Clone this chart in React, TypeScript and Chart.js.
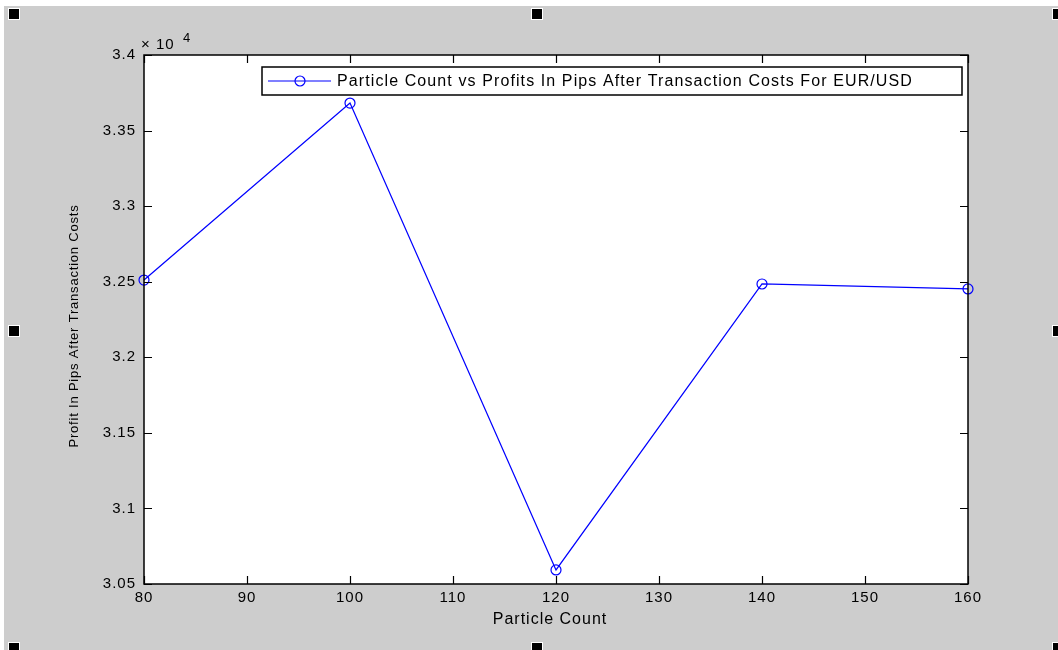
import React, { useEffect, useRef } from "react";
import { Chart, registerables } from "chart.js";

Chart.register(...registerables);

const particleCounts = [80, 100, 120, 140, 160];
const profits = [32511, 33682, 30593, 32485, 32452];
const seriesLabel = "Particle Count vs Profits In Pips After Transaction Costs For EUR/USD";
const xTitle = "Particle Count";
const yTitle = "Profit In Pips After Transaction Costs";
const yMin = 30500;
const yMax = 34000;
const yStep = 500;
const xMin = 80;
const xMax = 160;
const xStep = 10;

const W = 1058;
const H = 650;
const FONT = "'Liberation Sans', Arial, Helvetica, sans-serif";
const BG = "#cdcdcd";
const BLUE = "#0000ff";

const decorPlugin = {
  id: "decor",
  beforeDraw(chart: any) {
    const ctx = chart.ctx;
    const a = chart.chartArea;
    ctx.save();
    ctx.fillStyle = BG;
    ctx.fillRect(0, 0, W, H);
    ctx.fillStyle = "#ffffff";
    ctx.fillRect(0, 0, W, 6);
    ctx.fillRect(0, 0, 4, H);
    ctx.fillRect(a.left, a.top, a.right - a.left, a.bottom - a.top);
    ctx.restore();
    (ctx as any).letterSpacing = "1px";
  },
  afterDraw(chart: any) {
    const ctx = chart.ctx;
    const a = chart.chartArea;
    const xs = chart.scales.x;
    const ys = chart.scales.y;
    ctx.save();
    (ctx as any).letterSpacing = "0px";
    // frame
    ctx.strokeStyle = "#000";
    ctx.lineWidth = 1.5;
    ctx.strokeRect(a.left, a.top, a.right - a.left, a.bottom - a.top);
    // inward ticks
    const TL = 8;
    ctx.lineWidth = 1.2;
    ctx.beginPath();
    xs.ticks.forEach((t: any) => {
      const px = Math.round(xs.getPixelForValue(t.value)) + 0.5;
      ctx.moveTo(px, a.bottom);
      ctx.lineTo(px, a.bottom - TL);
      ctx.moveTo(px, a.top);
      ctx.lineTo(px, a.top + TL);
    });
    ys.ticks.forEach((t: any) => {
      const py = Math.round(ys.getPixelForValue(t.value)) + 0.5;
      ctx.moveTo(a.left, py);
      ctx.lineTo(a.left + TL, py);
      ctx.moveTo(a.right, py);
      ctx.lineTo(a.right - TL, py);
    });
    ctx.stroke();

    // exponent label
    ctx.fillStyle = "#000";
    (ctx as any).letterSpacing = "1px";
    ctx.font = `15px ${FONT}`;
    ctx.textAlign = "left";
    ctx.textBaseline = "alphabetic";
    ctx.fillText("\u00d7 10", a.left - 3, a.top - 6);
    ctx.font = `13px ${FONT}`;
    ctx.fillText("4", a.left + 39, a.top - 13);

    // axis titles
    ctx.font = `16px ${FONT}`;
    ctx.textAlign = "center";
    ctx.textBaseline = "middle";
    ctx.fillText(xTitle, 550, 620);
    ctx.save();
    ctx.translate(74, 326);
    ctx.rotate(-Math.PI / 2);
    (ctx as any).letterSpacing = "0.8px";
    ctx.font = `13px ${FONT}`;
    ctx.fillText(yTitle, 0, 0);
    ctx.restore();

    // legend
    const ds = chart.data.datasets[0];
    const bx = 262, by = 67, bw = 700, bh = 28;
    ctx.fillStyle = "#fff";
    ctx.fillRect(bx, by, bw, bh);
    ctx.strokeStyle = "#000";
    ctx.lineWidth = 1.5;
    ctx.strokeRect(bx, by, bw, bh);
    const ly = by + bh / 2;
    ctx.strokeStyle = ds.borderColor;
    ctx.lineWidth = 1.2;
    ctx.beginPath();
    ctx.moveTo(268, ly);
    ctx.lineTo(331, ly);
    ctx.stroke();
    ctx.beginPath();
    ctx.arc(300, ly, 5, 0, Math.PI * 2);
    ctx.stroke();
    ctx.fillStyle = "#000";
    ctx.font = `16px ${FONT}`;
    ctx.textAlign = "left";
    (ctx as any).letterSpacing = "1.1px";
    ctx.fillText(ds.label, 337, ly + 1);

    // selection handles
    const handles = [
      [9, 9], [532, 9], [1053, 9],
      [9, 326], [1053, 326],
      [9, 643], [532, 643], [1053, 643],
    ];
    handles.forEach(([hx, hy]) => {
      ctx.fillStyle = "#fff";
      ctx.fillRect(hx - 1, hy - 1, 12, 12);
      ctx.fillStyle = "#000";
      ctx.fillRect(hx, hy, 10, 10);
    });
    ctx.restore();
  },
};

export default function App() {
  const ref = useRef<HTMLCanvasElement | null>(null);
  useEffect(() => {
    if (!ref.current) return;
    const chart = new Chart(ref.current, {
      type: "line",
      data: {
        datasets: [
          {
            label: seriesLabel,
            data: particleCounts.map((x, i) => ({ x, y: profits[i] })),
            borderColor: BLUE,
            backgroundColor: "rgba(0,0,0,0)",
            borderWidth: 1.2,
            pointRadius: 5,
            pointBorderWidth: 1.2,
            pointBorderColor: BLUE,
            pointBackgroundColor: "rgba(0,0,0,0)",
            tension: 0,
            clip: false,
          },
        ],
      },
      options: {
        animation: false,
        responsive: true,
        maintainAspectRatio: false,
        layout: { padding: { top: 55, right: 90, left: 0, bottom: 0 } },
        plugins: {
          legend: { display: false },
          tooltip: { enabled: false },
        },
        scales: {
          x: {
            type: "linear",
            min: xMin,
            max: xMax,
            grid: { display: false, drawTicks: false },
            border: { display: false },
            ticks: {
              stepSize: xStep,
              color: "#000",
              padding: 5,
              font: { family: FONT, size: 15 },
              maxRotation: 0,
            },
            afterFit: (s: any) => {
              s.height = 66;
            },
          },
          y: {
            type: "linear",
            min: yMin,
            max: yMax,
            grid: { display: false, drawTicks: false },
            border: { display: false },
            ticks: {
              stepSize: yStep,
              color: "#000",
              padding: 8,
              font: { family: FONT, size: 15 },
              callback: (v: any) => String(Number((Number(v) / 10000).toFixed(2))),
            },
            afterFit: (s: any) => {
              s.width = 144;
            },
          },
        },
      },
      plugins: [decorPlugin],
    });
    return () => chart.destroy();
  }, []);
  return (
    <div style={{ position: "fixed", left: 0, top: 0, width: W, height: H, background: BG }}>
      <canvas ref={ref} />
    </div>
  );
}
